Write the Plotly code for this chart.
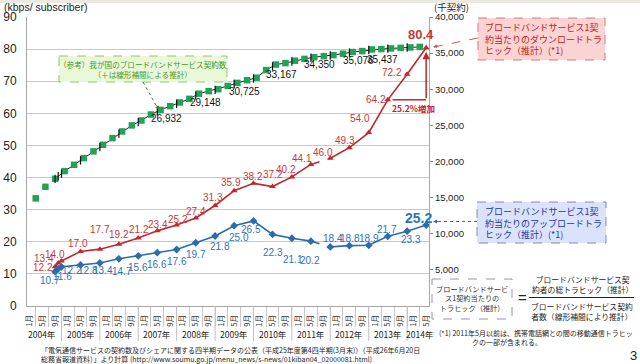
import plotly.graph_objects as go

# ---------------- data ----------------
month_tick_dates = [
    "2004-01-01", "2004-05-01", "2004-09-01", "2005-01-01", "2005-05-01", "2005-09-01",
    "2006-01-01", "2006-05-01", "2006-09-01", "2007-01-01", "2007-05-01", "2007-09-01",
    "2008-01-01", "2008-05-01", "2008-09-01", "2009-01-01", "2009-05-01", "2009-09-01",
    "2010-01-01", "2010-05-01", "2010-09-01", "2011-01-01", "2011-05-01", "2011-09-01",
    "2012-01-01", "2012-05-01", "2012-09-01", "2013-01-01", "2013-05-01", "2013-09-01",
    "2014-01-01", "2014-05-01"]
month_tick_text = ["1月", "5月", "9月"] * 10 + ["1月", "5月"]

year_labels = ["2004年", "2005年", "2006年", "2007年", "2008年", "2009年",
               "2010年", "2011年", "2012年", "2013年", "2014年"]
year_centers = ["2004-05-01", "2005-05-01", "2006-05-01", "2007-05-01", "2008-05-01",
                "2009-05-01", "2010-05-01", "2011-05-01", "2012-05-01", "2013-05-01",
                "2014-03-01"]
year_bounds = ["2004-11-01", "2005-11-01", "2006-11-01", "2007-11-01", "2008-11-01",
               "2009-11-01", "2010-11-01", "2011-11-01", "2012-11-01", "2013-11-01"]

traffic_dates = ["2004-09-01", "2004-10-01", "2004-11-01",
                 "2005-05-01", "2005-11-01", "2006-05-01", "2006-11-01",
                 "2007-05-01", "2007-11-01", "2008-05-01", "2008-11-01",
                 "2009-05-01", "2009-11-01", "2010-05-01", "2010-11-01",
                 "2011-05-01", "2011-11-01", "2012-05-01", "2012-11-01",
                 "2013-05-01", "2013-11-01", "2014-05-01"]
download = [12.2, 13.4, 14.0, 17.0, 17.7, 19.2, 21.2, 23.4, 25.2, 27.4, 31.3,
            35.9, 38.2, 37.2, 40.2, 44.1, 46.0, 49.3, 54.0, 64.2, 72.2, 80.4]
upload = [10.7, 11.6, 12.2, 12.8, 13.4, 14.7, 15.6, 16.6, 17.6, 19.7, 21.8,
          25.0, 26.5, 22.3, 21.1, 20.2, 18.4, 18.8, 18.9, 21.7, 23.3, 25.2]

subs_dates = [
    "2004-03-01", "2004-06-01", "2004-09-01", "2004-12-01",
    "2005-03-01", "2005-06-01", "2005-09-01", "2005-12-01",
    "2006-03-01", "2006-06-01", "2006-09-01", "2006-12-01",
    "2007-03-01", "2007-06-01", "2007-09-01", "2007-12-01",
    "2008-03-01", "2008-06-01", "2008-09-01", "2008-12-01",
    "2009-03-01", "2009-06-01", "2009-09-01", "2009-12-01",
    "2010-03-01", "2010-06-01", "2010-09-01", "2010-12-01",
    "2011-03-01", "2011-06-01", "2011-09-01", "2011-12-01",
    "2012-03-01", "2012-06-01", "2012-09-01", "2012-12-01",
    "2013-03-01", "2013-06-01", "2013-09-01", "2013-12-01",
    "2014-03-01"]
subscribers = [14900, 16500, 17600, 18670, 19540, 20470, 21400, 22310, 23240, 24160,
               25000, 25680, 26500, 27150, 27660, 28170, 28670, 29390, 29740, 30010,
               30450, 30880, 31250, 31600, 32650, 33420, 33620, 33950, 34200, 34430,
               34580, 34720, 34920, 35150, 35280, 35510, 35560, 35650, 35730, 35790,
               35860]
# linear-interpolation estimates shown with "+" at the traffic months
subs_interp_dates = traffic_dates[:21]
subs_interp = [17600, 17957, 18313, 20160, 22007, 23853, 25453, 26932, 28000, 29148,
               29920, 30725, 31483, 33167, 33840, 34350, 34673, 35076, 35437, 35620,
               35770]
subs_labelled = [7, 9, 11, 13, 15, 17, 18]

y2_ticks = [5000, 10000, 15000, 20000, 25000, 30000, 35000, 40000]

# ---------------- styles / label offsets (pixels: dx right, dy down) ----------------
RED, RED_T = "#c0282d", "#c8383a"
BLUE, BLUE_T = "#2b6cb0", "#2e73b8"
GREEN = "#23a157"
NUM_FONT = "Liberation Sans Narrow, Arial Narrow, Liberation Sans, sans-serif"
JP = "Noto Sans CJK JP, sans-serif"

red_off = [(-12, 1), (-14, -4), (-6, -7), (-3, -8), (0, -20), (0, -10), (1, -8),
           (1, -6), (1, -6), (0, -7), (-2, -8), (-3, -8), (-1, -7), (0, -12),
           (-6, -7), (-9, -6), (-7, -6), (-4, -7), (-9, -14), (-12, 0), (-15, -2),
           (-5, -13)]
blue_off = [(-5, 9), (4, 8), (11, 4), (7, 6), (3, 8), (3, 13), (0, 12), (0, 12),
            (0, 12), (0, 12), (5, 10), (5, 12), (-3, 9), (0, 18), (1, 21), (-1, 19),
            (3, -8), (1, -7), (0, -7), (-1, -7), (4, 8), (-8, -7)]
green_off = [(9, 7), (10, 7), (10, 7), (9, 8), (9, 7), (9, 8), (14, 10)]

L, R, T, B = 27, 429, 17, 306   # plot area in pixels


def px(x):
    return (x - L) / (R - L)


def py(y):
    return (B - y) / (B - T)


fig = go.Figure()

# green subscriber series (right axis)
fig.add_trace(go.Scatter(x=subs_dates[2:], y=subscribers[2:], mode="lines",
                         line=dict(color="#222222", width=1), yaxis="y2",
                         hoverinfo="skip"))
fig.add_trace(go.Scatter(x=subs_dates, y=subscribers, mode="markers",
                         marker=dict(symbol="square", size=6.5, color=GREEN),
                         yaxis="y2"))
fig.add_trace(go.Scatter(
    x=subs_interp_dates, y=subs_interp, mode="markers",
    marker=dict(symbol="line-ns", size=6, line=dict(width=1.2, color="#111111")),
    yaxis="y2"))

# red download series
fig.add_trace(go.Scatter(x=traffic_dates[:16], y=download[:16], mode="lines",
                         line=dict(color=RED, width=1.6)))
fig.add_trace(go.Scatter(x=traffic_dates[15:17], y=download[15:17], mode="lines",
                         line=dict(color=RED, width=1.6, dash="dash")))
fig.add_trace(go.Scatter(x=traffic_dates[16:], y=download[16:], mode="lines",
                         line=dict(color=RED, width=1.6)))
fig.add_trace(go.Scatter(x=traffic_dates, y=download, mode="markers",
                         marker=dict(symbol="triangle-up", size=6, color=RED)))

# blue upload series
fig.add_trace(go.Scatter(x=traffic_dates[:16], y=upload[:16], mode="lines",
                         line=dict(color=BLUE, width=1.6)))
fig.add_trace(go.Scatter(x=traffic_dates[15:17], y=upload[15:17], mode="lines",
                         line=dict(color=BLUE, width=1.6, dash="dash")))
fig.add_trace(go.Scatter(x=traffic_dates[16:], y=upload[16:], mode="lines",
                         line=dict(color=BLUE, width=1.6)))
fig.add_trace(go.Scatter(x=traffic_dates, y=upload, mode="markers",
                         marker=dict(symbol="diamond", size=6, color=BLUE)))

shapes = []
annotations = []

# data labels
n = len(traffic_dates)
for i, (d, v) in enumerate(zip(traffic_dates, download)):
    last = i == n - 1
    annotations.append(dict(
        x=d, y=v, xref="x", yref="y", showarrow=False,
        text=f"<b>{v:.1f}</b>" if last else f"{v:.1f}",
        xshift=red_off[i][0], yshift=-red_off[i][1],
        font=dict(family=NUM_FONT, size=13 if last else 10, color=RED_T)))
for i, (d, v) in enumerate(zip(traffic_dates, upload)):
    last = i == n - 1
    annotations.append(dict(
        x=d, y=v, xref="x", yref="y", showarrow=False,
        text=f"<b>{v:.1f}</b>" if last else f"{v:.1f}",
        xshift=blue_off[i][0], yshift=-blue_off[i][1],
        font=dict(family=NUM_FONT, size=14 if last else 10, color=BLUE_T)))
for j, i in enumerate(subs_labelled):
    annotations.append(dict(
        x=subs_interp_dates[i], y=subs_interp[i], xref="x", yref="y2", showarrow=False,
        text=f"{subs_interp[i]:,}", xshift=green_off[j][0], yshift=-green_off[j][1],
        font=dict(family=NUM_FONT, size=10, color="#111111")))

# top band
shapes.append(dict(type="rect", xref="paper", yref="paper", x0=px(0), x1=px(640),
                   y0=py(0), y1=py(3), fillcolor="#ece9e1", line=dict(width=0),
                   layer="below"))

# year separators
for d in year_bounds:
    shapes.append(dict(type="line", xref="x", yref="paper", x0=d, x1=d,
                       y0=py(306), y1=py(341), line=dict(color="#c0c0c0", width=1)))
for d, t in zip(year_centers, year_labels):
    annotations.append(dict(x=d, y=py(334), xref="x", yref="paper", text=t,
                            showarrow=False, font=dict(family=JP, size=8.5, color="#222"),
                            xanchor="center", yanchor="middle"))

# axis titles
annotations.append(dict(x=px(2), y=py(6.5), xref="paper", yref="paper",
                        text="(kbps/ subscriber)", showarrow=False, xanchor="left",
                        yanchor="middle",
                        font=dict(family="Liberation Sans, Arial", size=10.5, color="#222")))
annotations.append(dict(x=px(432), y=py(7), xref="paper", yref="paper",
                        text="(千契約)", showarrow=False, xanchor="left", yanchor="middle",
                        font=dict(family=JP, size=9.5, color="#222")))

# green reference box
shapes.append(dict(type="rect", xref="paper", yref="paper", x0=px(59), x1=px(227),
                   y0=py(56), y1=py(82), fillcolor="#ebf7d9",
                   line=dict(color="#8cc860", width=1, dash="dash")))
annotations.append(dict(x=px(143), y=py(69), xref="paper", yref="paper",
                        text="（参考）我が国のブロードバンドサービス契約数<br>（＋は線形補間による推計）",
                        showarrow=False, align="center", xanchor="center", yanchor="middle",
                        font=dict(family=JP, size=7.6, color="#3f9a2a")))
shapes.append(dict(type="line", xref="paper", yref="paper", x0=px(143), y0=py(82),
                   x1=px(157), y1=py(107), line=dict(color="#3c7a3c", width=1, dash="dot")))
annotations.append(dict(x=px(159), y=py(110), xref="paper", yref="paper", text="",
                        showarrow=True, ax=-3, ay=-6, arrowhead=2, arrowsize=0.8,
                        arrowwidth=1, arrowcolor="#3c7a3c"))

# red box
shapes.append(dict(type="rect", xref="paper", yref="paper", x0=px(478), x1=px(605),
                   y0=py(18), y1=py(60), fillcolor="#fbd3d3",
                   line=dict(color="#d07a7a", width=1, dash="dash")))
annotations.append(dict(x=px(483), y=py(39), xref="paper", yref="paper",
                        text="ブロードバンドサービス1契<br>約当たりのダウンロードトラ<br>ヒック（推計）(*1)",
                        showarrow=False, align="left", xanchor="left", yanchor="middle",
                        font=dict(family=JP, size=9, color="#c42020")))
shapes.append(dict(type="line", xref="paper", yref="paper", x0=px(478), y0=py(38),
                   x1=px(434), y1=py(47), line=dict(color="#c06060", width=1, dash="dash")))
annotations.append(dict(x=px(433), y=py(47), xref="paper", yref="paper", text="",
                        showarrow=True, ax=7, ay=-1.5, arrowhead=2, arrowsize=0.8,
                        arrowwidth=1, arrowcolor="#c06060"))

# blue box
shapes.append(dict(type="rect", xref="paper", yref="paper", x0=px(477), x1=px(606),
                   y0=py(202), y1=py(243), fillcolor="#dbe2fb",
                   line=dict(color="#7c88c4", width=1, dash="dash")))
annotations.append(dict(x=px(483), y=py(223), xref="paper", yref="paper",
                        text="ブロードバンドサービス1契<br>約当たりのアップロードトラ<br>ヒック（推計）(*1)",
                        showarrow=False, align="left", xanchor="left", yanchor="middle",
                        font=dict(family=JP, size=9, color="#2236a8")))
shapes.append(dict(type="line", xref="paper", yref="paper", x0=px(477), y0=py(221.5),
                   x1=px(434), y1=py(221.5),
                   line=dict(color="#5060b0", width=1, dash="dot")))
annotations.append(dict(x=px(433), y=py(221.5), xref="paper", yref="paper", text="",
                        showarrow=True, ax=7, ay=0, arrowhead=2, arrowsize=0.8,
                        arrowwidth=1, arrowcolor="#5060b0"))

# 25.2% increase bracket
shapes.append(dict(type="line", xref="x", yref="y", x0="2013-06-15", x1="2014-05-01",
                   y0=download[19], y1=download[19], line=dict(color=RED, width=1.5)))
annotations.append(dict(x="2014-05-01", y=download[21] - 1.2, xref="x", yref="y",
                        ax="2014-05-01", ay=download[19], axref="x", ayref="y", text="",
                        showarrow=True, arrowhead=2, arrowsize=1, arrowwidth=1.5,
                        arrowcolor=RED))
annotations.append(dict(x=px(413), y=py(108), xref="paper", yref="paper",
                        text="<b>25.2%増加</b>", showarrow=False, xanchor="center",
                        yanchor="middle", font=dict(family=JP, size=8.5, color="#d02020")))

# formula box
shapes.append(dict(type="rect", xref="paper", yref="paper", x0=px(432), x1=px(512),
                   y0=py(279), y1=py(319), fillcolor="white",
                   line=dict(color="#9a90c4", width=1, dash="dash")))
annotations.append(dict(x=px(472), y=py(298), xref="paper", yref="paper",
                        text="ブロードバンドサービ<br>ス1契約当たりの<br>トラヒック（推計）",
                        showarrow=False, align="center", xanchor="center", yanchor="middle",
                        font=dict(family=JP, size=7.2, color="#333")))
annotations.append(dict(x=px(522), y=py(297), xref="paper", yref="paper", text="=",
                        showarrow=False, xanchor="center", yanchor="middle",
                        font=dict(family="Liberation Sans", size=15, color="#222")))
shapes.append(dict(type="line", xref="paper", yref="paper", x0=px(529), x1=px(634),
                   y0=py(297.5), y1=py(297.5), line=dict(color="#222", width=1.2)))
annotations.append(dict(x=px(582), y=py(284), xref="paper", yref="paper",
                        text="ブロードバンドサービス契<br>約者の総トラヒック（推計）",
                        showarrow=False, align="center", xanchor="center", yanchor="middle",
                        font=dict(family=JP, size=7.8, color="#222")))
annotations.append(dict(x=px(582), y=py(311), xref="paper", yref="paper",
                        text="ブロードバンドサービス契約<br>者数（線形補間により推計）",
                        showarrow=False, align="center", xanchor="center", yanchor="middle",
                        font=dict(family=JP, size=7.8, color="#222")))

# footnotes
annotations.append(dict(x=px(437), y=py(333), xref="paper", yref="paper",
                        text="(*1) 2011年5月以前は、携帯電話網との間の移動通信トラヒッ",
                        showarrow=False, xanchor="left", yanchor="middle",
                        font=dict(family=JP, size=7, color="#222")))
annotations.append(dict(x=px(470), y=py(342), xref="paper", yref="paper",
                        text="クの一部が含まれる。",
                        showarrow=False, xanchor="left", yanchor="middle",
                        font=dict(family=JP, size=7, color="#222")))
annotations.append(dict(x=px(39), y=py(350), xref="paper", yref="paper",
                        text="「電気通信サービスの契約数及びシェアに関する四半期データの公表（平成25年度第4四半期(3月末)）（平成26年6月20日",
                        showarrow=False, xanchor="left", yanchor="middle",
                        font=dict(family=JP, size=7, color="#222")))
annotations.append(dict(x=px(39), y=py(359), xref="paper", yref="paper",
                        text="総務省報道資料）」より計算 (http://www.soumu.go.jp/menu_news/s-news/01kiban04_02000081.html)",
                        showarrow=False, xanchor="left", yanchor="middle",
                        font=dict(family=JP, size=7, color="#222")))
annotations.append(dict(x=px(633), y=py(355), xref="paper", yref="paper", text="3",
                        showarrow=False, xanchor="center", yanchor="middle",
                        font=dict(family="Liberation Sans", size=13, color="#222")))

fig.update_layout(
    width=640, height=364, autosize=False,
    margin=dict(l=L, r=640 - R, t=T, b=364 - B, pad=0, autoexpand=False),
    paper_bgcolor="white", plot_bgcolor="white",
    showlegend=False,
    xaxis=dict(type="date", range=["2003-12-09", "2014-05-28"], automargin=False,
               tickmode="array", tickvals=month_tick_dates, ticktext=month_tick_text,
               tickangle=-90, tickfont=dict(family=JP, size=7.5, color="#333"),
               ticks="", ticklabelstandoff=5, showgrid=False, zeroline=False,
               showline=True, linecolor="#a6a6a6", linewidth=1,
               minor=dict(ticks="outside", ticklen=20, tickwidth=1, tickcolor="#c8c8c8",
                          tickmode="linear", tick0="2004-03-01", dtick="M4",
                          showgrid=False)),
    yaxis=dict(range=[0, 90], dtick=10, showgrid=True, gridcolor="#c8c8c8", gridwidth=1,
               automargin=False,
               zeroline=False, showline=True, linecolor="#a6a6a6", ticks="",
               ticklabelstandoff=7,
               tickfont=dict(family="Liberation Sans, Arial", size=12, color="#222")),
    yaxis2=dict(range=[0, 40000], overlaying="y", side="right", showgrid=False,
                automargin=False,
                zeroline=False, tickmode="array", tickvals=y2_ticks,
                ticktext=[f"{v:,}" for v in y2_ticks],
                ticks="outside", ticklen=3, tickcolor="#888",
                showline=True, linecolor="#a6a6a6",
                tickfont=dict(family="Liberation Sans, Arial", size=9.5, color="#222")),
    shapes=shapes,
    annotations=annotations,
)

fig.write_html("out.html", config={"displayModeBar": False},
               post_script="document.body.style.margin='0';document.body.style.padding='0';")
